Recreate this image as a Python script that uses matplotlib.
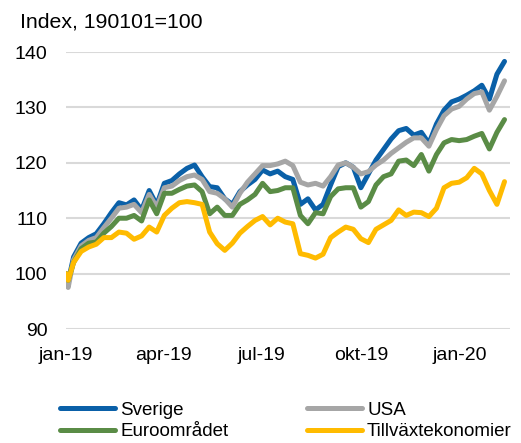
import pandas as pd
import matplotlib
matplotlib.use("Agg")
import matplotlib.pyplot as plt

plt.rcParams['font.family'] = ['Liberation Sans', 'DejaVu Sans']

# ---- Data (roughly weekly) ----
dates = [pd.Timestamp("2019-01-01"), pd.Timestamp("2019-01-03")] + \
    list(pd.date_range("2019-01-08", periods=58, freq="7D"))

sverige = [100, 98.5, 103, 105.5, 106.5, 107.2, 109, 111, 112.8, 112.4, 113.3, 111.5,
           115, 112.4, 116.3, 116.8, 118, 119, 119.6, 117.5, 115.7, 115.5, 113.5, 112.5,
           114.8, 116, 117, 118.7, 118, 118.5, 117.5, 117, 112.5, 113.5, 111.5, 112.5,
           116, 119.3, 120, 119.2, 115.5, 118, 120.5, 122.4, 124.3, 125.8, 126.2, 125,
           125.5, 123.5, 127, 129.5, 131, 131.5, 132.2, 133, 134, 131.5, 136, 138.3]

usa = [100, 97.5, 102.5, 105, 106, 106.5, 108.3, 110, 111.8, 112, 112.5, 111,
       114.3, 112, 115.5, 115.8, 116.8, 117.5, 117.8, 117, 114.8, 114.5, 113.5, 112,
       114.5, 116.5, 118, 119.5, 119.5, 119.8, 120.3, 119.5, 116.5, 116, 116.3, 115.8,
       117.5, 119.6, 120, 119.2, 118, 118.4, 119.6, 120.5, 121.7, 122.7, 123.7, 124.5,
       124.5, 123, 126, 128.5, 129.7, 130.2, 131.5, 132.5, 132.8, 129.5, 132, 134.8]

euro = [100, 98.8, 102, 104.5, 105.5, 105.7, 107.3, 108.5, 110, 110, 110.5, 109.5,
        113.3, 110.8, 114.5, 114.5, 115.2, 115.8, 116, 114.8, 110.8, 112, 110.5, 110.5,
        112.5, 113.3, 114.3, 116.3, 114.8, 115, 115.5, 115.5, 110.5, 109, 111, 110.8,
        113.9, 115.3, 115.5, 115.5, 112, 113, 116, 117.5, 118, 120.3, 120.5, 119.5,
        121.5, 118.5, 121.5, 123.6, 124.2, 124, 124.2, 124.8, 125.3, 122.5, 125.5, 127.8]

tillvaxt = [100, 98.8, 102, 104, 104.8, 105.3, 106.5, 106.5, 107.5, 107.3, 106.2, 106.8,
            108.4, 107.5, 110.5, 111.8, 112.8, 113, 112.8, 112.5, 107.5, 105.4, 104.2, 105.5,
            107.3, 108.5, 109.6, 110.3, 108.8, 110, 109.3, 109, 103.6, 103.3, 102.8, 103.5,
            106.5, 107.5, 108.4, 108, 106.3, 105.6, 108, 108.8, 109.6, 111.5, 110.5, 111.1,
            111, 110.3, 111.8, 115.5, 116.3, 116.5, 117.3, 119, 118, 115, 112.5, 116.6]

series = [("Sverige", sverige, "#0a60a8"),
          ("USA", usa, "#a6a6a6"),
          ("Euroområdet", euro, "#5a8c46"),
          ("Tillväxtekonomier", tillvaxt, "#ffbb00")]

yticks = [90, 100, 110, 120, 130, 140]
xticks = ["2019-01-01", "2019-04-01", "2019-07-01", "2019-10-01", "2020-01-01"]
xticklabels = ["jan-19", "apr-19", "jul-19", "okt-19", "jan-20"]

# ---- Plot ----
fig = plt.figure(figsize=(5.21, 4.43), dpi=100)
ax = fig.add_axes([0.1267, 0.2573, 0.852, 0.6253])

lines = {}
for name, vals, col in series:
    lines[name], = ax.plot(dates, vals, color=col, lw=3.6, label=name, solid_capstyle="round")

ax.set_ylim(90, 140)
ax.set_yticks(yticks)
ax.set_xlim(pd.Timestamp("2019-01-01"), pd.Timestamp("2020-02-16"))
ax.set_xticks([pd.Timestamp(d) for d in xticks])
ax.set_xticklabels(xticklabels)

ax.grid(axis="y", color="#d9d9d9", lw=1.5)
ax.set_axisbelow(True)
for s in ax.spines.values():
    s.set_visible(False)
ax.tick_params(axis="both", length=0, labelsize=14)
ax.tick_params(axis="y", pad=13.5)
ax.tick_params(axis="x", pad=13)

fig.text(0.038, 0.95, "Index, 190101=100", fontsize=15.3, va="center", ha="left")

# legend fills column by column, so order it to read row-wise
order = ["Sverige", "Euroområdet", "USA", "Tillväxtekonomier"]
fig.legend([lines[n] for n in order], order, loc="center left",
           bbox_to_anchor=(0.1008, 0.05), ncol=2, frameon=False,
           fontsize=13.5, handlelength=2.93, handletextpad=0.27, columnspacing=4.21,
           labelspacing=0.25, borderaxespad=0)

fig.savefig("out.png", dpi=100)
